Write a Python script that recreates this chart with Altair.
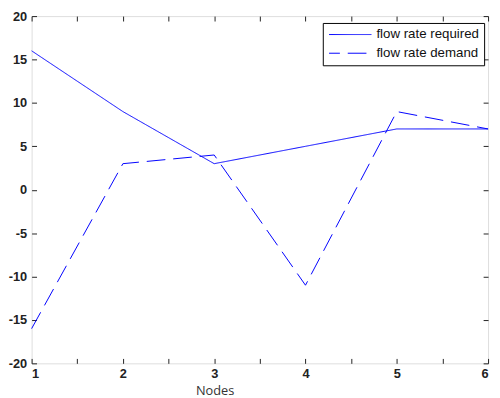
import altair as alt
import pandas as pd

nodes = [1, 2, 3, 4, 5, 6]
required = [16, 9, 3, 5, 7, 7]
demand = [-16, 3, 4, -11, 9, 7]
series_names = ["flow rate required", "flow rate demand"]
x_ticks = [1, 1.5, 2, 2.5, 3, 3.5, 4, 4.5, 5, 5.5, 6]
y_ticks = [-20, -15, -10, -5, 0, 5, 10, 15, 20]

rows = []
for n, r in zip(nodes, required):
    rows.append({"Nodes": n, "value": r, "series": series_names[0]})
for n, d in zip(nodes, demand):
    rows.append({"Nodes": n, "value": d, "series": series_names[1]})
df = pd.DataFrame(rows)

blue = "#0000ff"
xscale = alt.Scale(domain=[1, 6], nice=False, zero=False)
yscale = alt.Scale(domain=[-20, 20], nice=False)

lines = alt.Chart(df).mark_line(color=blue, strokeWidth=1).encode(
    x=alt.X("Nodes:Q", scale=xscale,
            axis=alt.Axis(orient="bottom", values=x_ticks, grid=False, domain=False,
                          tickSize=5, offset=-5, labelPadding=4, tickColor="#222",
                          labelExpr="datum.value % 1 == 0 ? format(datum.value, 'd') : ''",
                          labelFont="Liberation Sans", labelFontSize=13, labelFontWeight="bold",
                          labelColor="#222", title="Nodes", titleFont="Open Sans",
                          titleFontSize=13, titleFontWeight="normal", titleColor="#333",
                          titleX=186, titleY=27)),
    y=alt.Y("value:Q", scale=yscale,
            axis=alt.Axis(orient="left", values=y_ticks, grid=False, domain=False,
                          tickSize=5, offset=-5, labelPadding=5, tickColor="#222",
                          labelExpr="replace(format(datum.value, 'd'), '\u2212', '-')",
                          labelFont="Liberation Sans", labelFontSize=13, labelFontWeight="bold",
                          labelColor="#222", title=None)),
    strokeDash=alt.StrokeDash("series:N",
                              scale=alt.Scale(domain=series_names, range=[[1, 0], [19, 8]]),
                              legend=alt.Legend(title=None, orient="none", legendX=296, legendY=7,
                                                symbolType="M-1,0H7", symbolSize=116,
                                                symbolStrokeColor=blue, symbolFillColor=blue,
                                                symbolStrokeWidth=1, symbolDashOffset=8,
                                                labelFont="Liberation Sans", labelFontSize=13.5,
                                                labelColor="#111", labelOffset=36,
                                                padding=5, rowPadding=4,
                                                strokeColor="#000", fillColor="#ffffff")),
    order="Nodes:Q",
)

frame = alt.Chart(df).mark_line(opacity=0).encode(
    x=alt.X("Nodes:Q", scale=xscale,
            axis=alt.Axis(orient="top", values=x_ticks, grid=False, domain=False,
                          tickSize=5, offset=-5, labels=False, tickColor="#222", title=None)),
    y=alt.Y("value:Q", scale=yscale,
            axis=alt.Axis(orient="right", values=y_ticks, grid=False, domain=False,
                          tickSize=5, offset=-5, labels=False, tickColor="#222", title=None)),
    detail="series:N",
)

chart = alt.layer(lines, frame).resolve_axis(x="independent", y="independent").properties(
    width=464, height=353,
    autosize=alt.AutoSizeParams(type="none"),
    padding={"left": 24, "top": 5, "right": 4, "bottom": 32},
).configure_view(stroke="#222", strokeWidth=1).configure(background="white")

chart.save("out.html", embed_options={"renderer": "svg", "actions": False})
